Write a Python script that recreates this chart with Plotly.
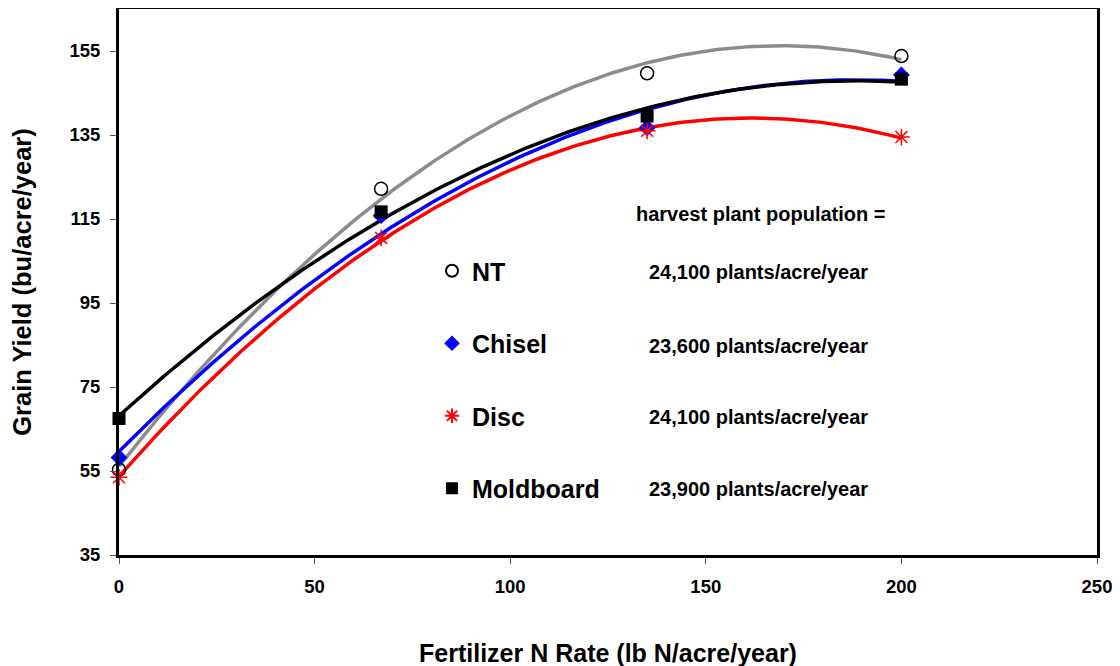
import numpy as np
import plotly.graph_objects as go

# N rate (lb N/acre/year) and grain yield (bu/acre/year)
n_rate = [0, 67, 135, 200]
nt = [55.3, 122.2, 149.7, 153.8]
chisel = [58.2, 115.8, 136.7, 149.3]
disc = [53.5, 110.5, 136.0, 134.5]
moldboard = [67.5, 116.7, 139.5, 148.3]

names = ["NT", "Chisel", "Disc", "Moldboard"]
populations = ["24,100", "23,600", "24,100", "23,900"]

series = [nt, chisel, disc, moldboard]
line_colors = ["#8c8c8c", "#0000ff", "#ff0000", "#000000"]
markers = [
    dict(symbol="circle-open", size=13, color="black", line=dict(width=1.5, color="black")),
    dict(symbol="diamond", size=13, color="#0000ff"),
    dict(symbol="asterisk-open", size=14, color="#ff0000", line=dict(width=1.5, color="#ff0000")),
    dict(symbol="square", size=13, color="black"),
]

# page has an 8px body margin, so the plot box is offset accordingly
PLOT_TOP, PLOT_BOTTOM, PLOT_LEFT, PLOT_W = 9, 555, 119, 978
PLOT_H = PLOT_BOTTOM - PLOT_TOP


def px_y(py):
    return (PLOT_BOTTOM - py) / PLOT_H


def px_x(px):
    return (px - PLOT_LEFT) / PLOT_W


fig = go.Figure()

# quadratic trendlines (like the spreadsheet's polynomial fit)
xs = np.linspace(0, 200, 201)
for ys, col in zip(series, line_colors):
    coef = np.polyfit(n_rate, ys, 2)
    fig.add_trace(go.Scatter(x=xs, y=np.polyval(coef, xs), mode="lines",
                             line=dict(color=col, width=3.5), showlegend=False,
                             hoverinfo="skip"))

for name, ys, mk in zip(names, series, markers):
    fig.add_trace(go.Scatter(x=n_rate, y=ys, mode="markers", name=name,
                             marker=mk, legendgroup=name, cliponaxis=False))

pop_rows = [272, 346, 417, 489]
for pop, row in zip(populations, pop_rows):
    fig.add_annotation(text=f"{pop} plants/acre/year", xref="paper", yref="paper",
                       x=px_x(647), y=px_y(row), xanchor="left",
                       yanchor="middle", showarrow=False, font=dict(size=20))
fig.add_annotation(text="harvest plant population =", xref="paper", yref="paper",
                   x=px_x(634), y=px_y(214), xanchor="left",
                   yanchor="middle", showarrow=False, font=dict(size=20))

axis_common = dict(showline=True, linecolor="black", linewidth=3, mirror=True,
                   ticks="outside", ticklen=6, tickcolor="#555", tickwidth=1,
                   showgrid=False, zeroline=False, automargin=False,
                   tickfont=dict(size=18.5, color="black"))

fig.update_layout(
    width=1120, height=666,
    margin=dict(l=PLOT_LEFT - 8, r=1120 - (PLOT_LEFT + PLOT_W - 8), t=PLOT_TOP - 8,
                b=666 - (PLOT_BOTTOM - 8)),
    plot_bgcolor="white", paper_bgcolor="white",
    font=dict(family="Liberation Sans, Arial, sans-serif", color="black", weight="bold"),
    xaxis=dict(range=[0, 250], tickvals=[0, 50, 100, 150, 200, 250], ticklabelstandoff=7,
               title=dict(text="Fertilizer N Rate (lb N/acre/year)", font=dict(size=25),
                          standoff=49),
               **axis_common),
    yaxis=dict(range=[35, 165], tickvals=[35, 55, 75, 95, 115, 135, 155], ticklabelstandoff=6,
               title=dict(text="Grain Yield (bu/acre/year)", font=dict(size=25.5),
                          standoff=32),
               **axis_common),
    legend=dict(x=px_x(432), y=px_y(248), xanchor="left", yanchor="top",
                bgcolor="rgba(0,0,0,0)", font=dict(size=25), tracegroupgap=37,
                itemsizing="constant"),
    showlegend=True,
)

fig.write_html("out.html")
